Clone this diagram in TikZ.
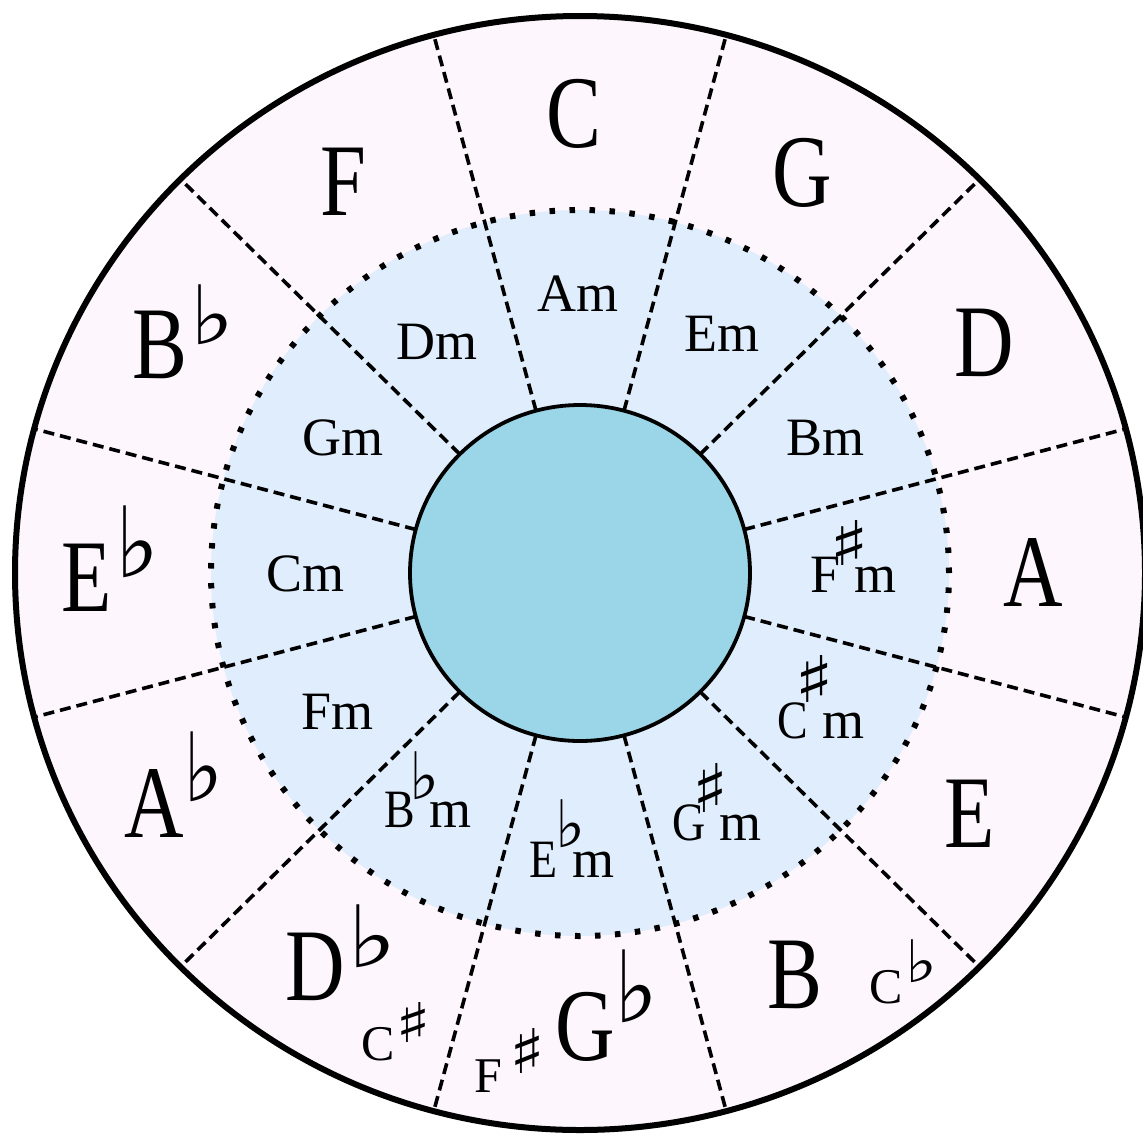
\documentclass[tikz,border=0pt]{standalone}
\usepackage{fontspec}
\setmainfont{Liberation Serif}
\newfontfamily\symf{DejaVu Sans}
\usepackage{graphicx}
\usetikzlibrary{calc}
\definecolor{ringpink}{HTML}{FDF6FD}
\definecolor{ringblue}{HTML}{DFEDFC}
\definecolor{hubcyan}{HTML}{9AD6E7}
\newcommand\pc[3]{\rlap{\kern#1\raisebox{#2}{#3}}}
% accidental: visible width #1, height #2 (box doubled to absorb side bearings)
\newcommand\accf[3]{\kern-0.5\dimexpr#1\relax\resizebox*{2\dimexpr#1\relax}{#2}{\raisebox{\depth}{\symf #3}}}
\newcommand\mj[1]{\scalebox{0.8}[1]{#1}}
\newcommand\mn[1]{\scalebox{0.85}[1]{#1}}
\begin{document}
\begin{tikzpicture}[x=1pt,y=-1pt,
  lbl/.style={inner sep=0pt, anchor=base west},
  majlbl/.style={lbl, font=\fontsize{103}{103}\selectfont},
  minlbl/.style={lbl, font=\fontsize{54}{54}\selectfont},
  smllbl/.style={lbl, font=\fontsize{50}{50}\selectfont},
  sepline/.style={line width=3.6pt, dash pattern=on 11pt off 6pt},
  dotline/.style={line width=6pt, dash pattern=on 5.5pt off 14.5pt},
  hub/.style={fill=hubcyan, draw=black, line width=3.8pt},
  rim/.style={draw=black, line width=6pt}]
\useasboundingbox (0,0) rectangle (1143,1133);
\fill[white] (0,0) rectangle (1143,1133);
\coordinate (c) at (580,573);
\fill[ringpink] (c) ellipse [x radius=565pt, y radius=557pt];
\fill[ringblue] (c) ellipse [x radius=369pt, y radius=363pt];
\foreach \a in {15,45,...,345}{
  \coordinate (in\a) at ($(c)+(\a:170pt and 168pt)$);
  \coordinate (out\a) at ($(c)+(\a:565pt and 557pt)$);
  \draw[sepline] (in\a) -- (out\a);
}
\draw[dotline] (c) ellipse [x radius=369pt, y radius=363pt];
\draw[hub] (c) ellipse [x radius=170pt, y radius=168pt];
\draw[rim] (c) ellipse [x radius=565pt, y radius=557pt];
% major keys
\node[majlbl] (kC) at (546,147) {\pc{0pt}{0pt}{\mj{C}}};
\node[majlbl] (kG) at (772,206) {\pc{0pt}{0pt}{\mj{G}}};
\node[majlbl] (kD) at (954,376) {\pc{0pt}{0pt}{\mj{D}}};
\node[majlbl] (kA) at (1003,606) {\pc{0pt}{0pt}{\mj{A}}};
\node[majlbl] (kE) at (944,847) {\pc{0pt}{0pt}{\mj{E}}};
\node[majlbl] (kB) at (767,1008) {\pc{0pt}{0pt}{\mj{B}}};
\node[majlbl] (kF) at (320,215) {\pc{0pt}{0pt}{\mj{F}}};
\node[majlbl] (kGb) at (555,1060) {\pc{0pt}{0pt}{\mj{G}}\pc{70pt}{37pt}{\accf{22pt}{73pt}{♭}}};
\node[majlbl] (kDb) at (285,1000) {\pc{0pt}{0pt}{\mj{D}}\pc{74pt}{32pt}{\accf{25pt}{63pt}{♭}}};
\node[majlbl] (kBb) at (132,378) {\pc{0pt}{0pt}{\mj{B}}\pc{69pt}{33pt}{\accf{22pt}{60pt}{♭}}};
\node[majlbl] (kEb) at (61,611) {\pc{0pt}{0pt}{\mj{E}}\pc{65pt}{33pt}{\accf{22pt}{72pt}{♭}}};
\node[majlbl] (kAb) at (124,837) {\pc{0pt}{0pt}{\mj{A}}\pc{69pt}{35pt}{\accf{20pt}{70pt}{♭}}};
% enharmonic names
\node[smllbl] (kCs) at (361,1060) {\pc{0pt}{0pt}{C}\pc{43pt}{18pt}{\accf{18pt}{40pt}{♯}}};
\node[smllbl] (kFs) at (474,1092) {\pc{0pt}{0pt}{F}\pc{44pt}{19pt}{\accf{18pt}{45pt}{♯}}};
\node[smllbl] (kCb) at (869,1003) {\pc{0pt}{0pt}{C}\pc{44pt}{20pt}{\accf{16pt}{43pt}{♭}}};
% minor keys
\node[minlbl] (mA) at (537,311) {Am};
\node[minlbl] (mD) at (396,359) {Dm};
\node[minlbl] (mG) at (302,455) {Gm};
\node[minlbl] (mE) at (684,351) {Em};
\node[minlbl] (mB) at (786,455) {Bm};
\node[minlbl] (mC) at (266,591) {Cm};
\node[minlbl] (mF) at (301,729) {Fm};
\node[minlbl] (mFs) at (810,592) {\pc{0pt}{0pt}{F}\pc{29pt}{27pt}{\accf{20pt}{45pt}{♯}}\pc{44pt}{0pt}{m}};
\node[minlbl] (mCs) at (777,738) {\pc{0pt}{0pt}{\mn{C}}\pc{27pt}{36pt}{\accf{20pt}{47pt}{♯}}\pc{45pt}{0pt}{m}};
\node[minlbl] (mGs) at (672,840) {\pc{0pt}{0pt}{\mn{G}}\pc{29pt}{28pt}{\accf{18pt}{49pt}{♯}}\pc{47pt}{0pt}{m}};
\node[minlbl] (mBb) at (384,827) {\pc{0pt}{0pt}{\mn{B}}\pc{32pt}{27pt}{\accf{15pt}{48pt}{♭}}\pc{45pt}{0pt}{m}};
\node[minlbl] (mEb) at (529,877) {\pc{0pt}{0pt}{\mn{E}}\pc{33pt}{29pt}{\accf{15pt}{48pt}{♭}}\pc{43pt}{0pt}{m}};
\end{tikzpicture}
\end{document}
